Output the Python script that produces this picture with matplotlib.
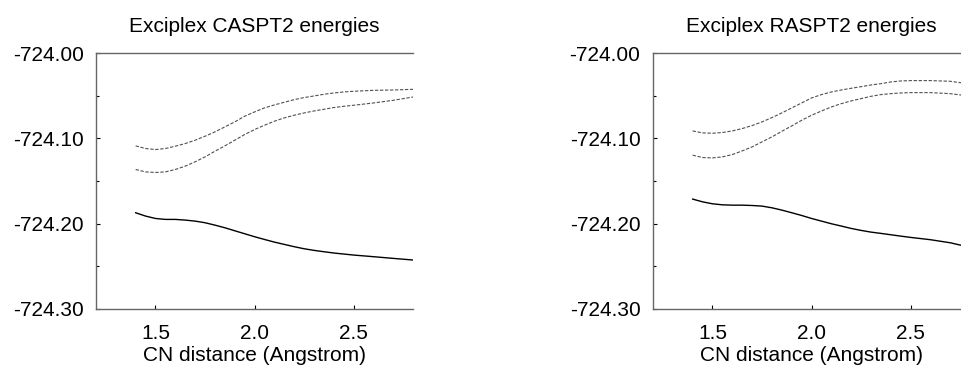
import numpy as np
import matplotlib
matplotlib.use("Agg")
import matplotlib.pyplot as plt
from matplotlib.ticker import MultipleLocator, FormatStrFormatter

plt.rcParams['font.family'] = ['Liberation Sans', 'DejaVu Sans']

# CN distance (Angstrom)
cas_dist = [1.40, 1.45, 1.50, 1.55, 1.60, 1.65, 1.70, 1.75, 1.80, 1.85, 1.90, 1.95, 2.00,
            2.05, 2.10, 2.15, 2.20, 2.25, 2.30, 2.35, 2.40, 2.45, 2.50, 2.60, 2.70, 2.80]
ras_dist = [1.40, 1.45, 1.50, 1.55, 1.60, 1.65, 1.70, 1.75, 1.80, 1.85, 1.90, 1.95, 2.00,
            2.05, 2.10, 2.15, 2.20, 2.25, 2.30, 2.35, 2.40, 2.45, 2.50, 2.60, 2.70, 2.75, 2.80]

# CASPT2 energies (hartree)
cas_upper = [-724.1088, -724.1119, -724.1131, -724.1119, -724.1092, -724.1061, -724.1022,
             -724.0975, -724.0924, -724.0866, -724.0807, -724.0741, -724.0690, -724.0643,
             -724.0608, -724.0577, -724.0546, -724.0522, -724.0503, -724.0483, -724.0468,
             -724.0456, -724.0448, -724.0437, -724.0433, -724.0425]
cas_lower = [-724.1365, -724.1393, -724.1400, -724.1393, -724.1365, -724.1326, -724.1275,
             -724.1217, -724.1151, -724.1088, -724.1022, -724.0955, -724.0897, -724.0846,
             -724.0799, -724.0760, -724.0729, -724.0702, -724.0679, -724.0659, -724.0639,
             -724.0624, -724.0612, -724.0585, -724.0554, -724.0515]
cas_ground = [-724.1872, -724.1911, -724.1939, -724.1950, -724.1950, -724.1958, -724.1970,
              -724.1989, -724.2017, -724.2048, -724.2083, -724.2118, -724.2153, -724.2185,
              -724.2216, -724.2243, -724.2270, -724.2294, -724.2313, -724.2329, -724.2344,
              -724.2356, -724.2368, -724.2387, -724.2407, -724.2426]

# RASPT2 energies (hartree)
ras_upper = [-724.0913, -724.0936, -724.0940, -724.0932, -724.0913, -724.0885, -724.0850,
             -724.0807, -724.0757, -724.0702, -724.0643, -724.0585, -724.0526, -724.0487,
             -724.0456, -724.0433, -724.0413, -724.0394, -724.0374, -724.0359, -724.0339,
             -724.0327, -724.0323, -724.0323, -724.0331, -724.0347, -724.0355]
ras_lower = [-724.1197, -724.1225, -724.1229, -724.1217, -724.1190, -724.1147, -724.1100,
             -724.1041, -724.0983, -724.0917, -724.0854, -724.0788, -724.0729, -724.0679,
             -724.0632, -724.0593, -724.0561, -724.0534, -724.0507, -724.0487, -724.0476,
             -724.0468, -724.0464, -724.0464, -724.0476, -724.0491, -724.0500]
ras_ground = [-724.1712, -724.1744, -724.1767, -724.1779, -724.1783, -724.1783, -724.1787,
              -724.1794, -724.1814, -724.1841, -724.1872, -724.1904, -724.1939, -724.1970,
              -724.2001, -724.2028, -724.2056, -724.2079, -724.2099, -724.2114, -724.2130,
              -724.2146, -724.2161, -724.2188, -724.2224, -724.2251, -724.2265]

panels = [
    ("Exciplex CASPT2 energies", cas_dist, cas_upper, cas_lower, cas_ground),
    ("Exciplex RASPT2 energies", ras_dist, ras_upper, ras_lower, ras_ground),
]

fig = plt.figure(figsize=(9.61, 3.72), dpi=100)
lefts = [96 / 961, 653 / 961]

for left, (title, x, up, low, gs) in zip(lefts, panels):
    ax = fig.add_axes([left, 0.1694, 0.330, 0.688])
    ax.plot(x, up, color='#505050', lw=0.8, dashes=(3, 1.5))
    ax.plot(x, low, color='#505050', lw=0.8, dashes=(3, 1.5))
    ax.plot(x, gs, color='black', lw=1.0)
    ax.set_xlim(1.2, 2.8)
    ax.set_ylim(-724.30, -724.00)
    ax.xaxis.set_major_locator(MultipleLocator(0.5))
    ax.xaxis.set_major_formatter(FormatStrFormatter('%.1f'))
    ax.yaxis.set_major_locator(MultipleLocator(0.1))
    ax.yaxis.set_minor_locator(MultipleLocator(0.05))
    ax.yaxis.set_major_formatter(FormatStrFormatter('%.2f'))
    ax.spines['right'].set_visible(False)
    for s in ['left', 'top', 'bottom']:
        ax.spines[s].set_color('#666666')
        ax.spines[s].set_linewidth(1.0)
    ax.tick_params(axis='both', which='major', direction='in', length=3, width=0.8,
                   color='black', labelsize=15)
    ax.tick_params(axis='y', which='minor', direction='in', length=2, width=0.8, color='black')
    ax.tick_params(axis='y', which='major', pad=9)
    ax.tick_params(axis='x', which='major', pad=11)
    ax.set_title(title, fontsize=15, pad=15)
    ax.set_xlabel("CN distance (Angstrom)", fontsize=15, labelpad=2)

fig.savefig("out.png", dpi=100)
